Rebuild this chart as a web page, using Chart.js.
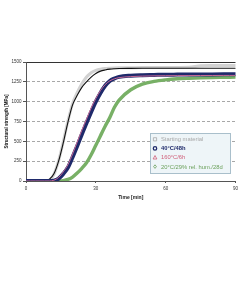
<!DOCTYPE html>
<html lang="en">
<head>
<meta charset="UTF-8">
<title>Structural strength</title>
<script src="https://cdn.jsdelivr.net/npm/chart.js"></script>
<style>
  body { margin: 0; background: #fff; }
  #wrap { position: relative; width: 241px; height: 283px; }
</style>
</head>
<body>
<div id="wrap"><canvas id="chart" width="241" height="283"></canvas></div>
<script>
// time axis (min)
const time = [0, 2, 4, 6, 8, 10, 12, 14, 16, 18, 20, 22, 24, 26, 28, 30, 32, 34, 36, 38, 40, 45, 50, 55, 60, 65, 70, 75, 80, 85, 90];

// structural strength (MPa)
const startingMaterial = [0, 0, 0, 0, 0, 12, 85, 255, 495, 755, 975, 1115, 1225, 1310, 1365, 1395, 1410, 1418, 1422, 1425, 1427, 1428, 1430, 1430, 1431, 1432, 1433, 1452, 1455, 1456, 1457];
const startingFit = [0, 0, 0, 0, 2, 20, 90, 250, 480, 740, 960, 1080, 1180, 1250, 1310, 1355, 1385, 1400, 1410, 1415, 1418, 1420, 1421, 1421, 1422, 1422, 1422, 1422, 1422, 1422, 1422];
const aged40C = [0, 0, 0, 0, 0, 0, 5, 30, 90, 170, 300, 440, 590, 730, 870, 1000, 1110, 1200, 1260, 1292, 1312, 1328, 1334, 1337, 1340, 1341, 1342, 1343, 1344, 1345, 1346];
const aged160C = [0, 0, 0, 0, 0, 0, 10, 45, 115, 205, 340, 490, 640, 780, 920, 1040, 1140, 1215, 1262, 1288, 1303, 1316, 1322, 1325, 1327, 1328, 1329, 1330, 1330, 1331, 1331];
const aged20C = [0, 0, 0, 0, 0, 0, 0, 0, 5, 20, 50, 100, 160, 230, 330, 450, 570, 690, 800, 930, 1020, 1150, 1220, 1255, 1275, 1288, 1295, 1300, 1304, 1307, 1310];

const yTicks = [0, 250, 500, 750, 1000, 1250, 1500];
const xTicks = [0, 30, 60, 90];

const legendItems = [
    { label: "Starting material", color: "#a8a8a8", marker: "square", bold: false },
    { label: "40°C/48h", color: "#1f2a6b", marker: "circle", bold: true },
    { label: "160°C/6h", color: "#d0607a", marker: "triangle", bold: false },
    { label: "20°C/29% rel. hum./28d", color: "#6aa05a", marker: "diamond", bold: false },
];

const pts = arr => time.map((t, i) => ({ x: t, y: arr[i] }));

const FONT = "'Liberation Sans', Arial, sans-serif";

// legend box drawn inside the plot
const boxLegend = {
    id: "boxLegend",
    afterDraw(chart) {
        const ctx = chart.ctx;
        const x = 150.5, y = 133.5, w = 80, h = 40;
        ctx.save();
        ctx.fillStyle = "#eef5f8";
        ctx.strokeStyle = "#a9bfcb";
        ctx.lineWidth = 1;
        ctx.fillRect(x, y, w, h);
        ctx.strokeRect(x, y, w, h);
        const rows = [139.3, 148.4, 157.5, 166.6];
        legendItems.forEach((it, i) => {
            const cy = rows[i], mx = 155;
            ctx.strokeStyle = it.color;
            ctx.lineWidth = it.bold ? 1.3 : 0.8;
            ctx.beginPath();
            if (it.marker === "square") ctx.rect(mx - 1.6, cy - 1.6, 3.2, 3.2);
            if (it.marker === "circle") ctx.arc(mx, cy, 1.7, 0, Math.PI * 2);
            if (it.marker === "triangle") { ctx.moveTo(mx, cy - 2); ctx.lineTo(mx + 1.9, cy + 1.5); ctx.lineTo(mx - 1.9, cy + 1.5); ctx.closePath(); }
            if (it.marker === "diamond") { ctx.moveTo(mx, cy - 1.8); ctx.lineTo(mx + 1.4, cy); ctx.lineTo(mx, cy + 1.8); ctx.lineTo(mx - 1.4, cy); ctx.closePath(); }
            ctx.stroke();
            ctx.fillStyle = it.color;
            ctx.font = (it.bold ? "bold " : "") + "5.8px " + FONT;
            ctx.textBaseline = "middle";
            ctx.textAlign = "left";
            ctx.fillText(it.label, 161, cy + 0.3);
        });
        ctx.restore();
    }
};

const ctx = document.getElementById("chart").getContext("2d");
// Chart.js paints dataset 0 last, so the top-most curve comes first here
new Chart(ctx, {
    type: "line",
    data: {
        datasets: [
            { label: "160°C/6h", data: pts(aged160C), borderColor: "#c86a96", borderWidth: 1 },
            { label: "40°C/48h", data: pts(aged40C), borderColor: "#1f2a6b", borderWidth: 4 },
            { label: "20°C/29% rel. hum./28d", data: pts(aged20C), borderColor: "#78b066", borderWidth: 3.4 },
            { label: "Starting material fit", data: pts(startingFit), borderColor: "#111111", borderWidth: 1.1 },
            { label: "Starting material", data: pts(startingMaterial), borderColor: "#d2d2d2", borderWidth: 3 },
        ]
    },
    options: {
        responsive: false,
        animation: false,
        parsing: false,
        layout: { padding: { top: 62, right: 4, left: 0, bottom: 82 } },
        elements: {
            point: { radius: 0 },
            line: { cubicInterpolationMode: "monotone", fill: false, borderCapStyle: "round" }
        },
        plugins: { legend: { display: false }, tooltip: { enabled: false } },
        scales: {
            x: {
                type: "linear",
                min: 0,
                max: 90,
                afterBuildTicks: s => { s.ticks = xTicks.map(v => ({ value: v })); },
                afterFit: s => { s.height = 20; },
                grid: { drawOnChartArea: false, drawTicks: true, tickLength: 2, color: "#555" },
                border: { color: "#555", width: 1 },
                ticks: { color: "#333", padding: 3, maxRotation: 0, font: { size: 4.5, family: FONT } },
                title: { display: true, text: "Time [min]", color: "#222", padding: { top: 1, bottom: 0 }, font: { size: 5, weight: "bold", family: FONT } }
            },
            y: {
                min: 0,
                max: 1500,
                afterBuildTicks: s => { s.ticks = yTicks.map(v => ({ value: v })); },
                afterFit: s => { s.width = 26; },
                grid: {
                    drawTicks: true,
                    tickLength: 3,
                    tickColor: "#555",
                    color: c => c.tick && c.tick.value === 1500 ? "#333" : (c.tick && c.tick.value === 0 ? "rgba(0,0,0,0)" : "#a8a8a8")
                },
                border: {
                    color: "#555",
                    width: 1,
                    dash: c => c.tick && c.tick.value === 1500 ? [] : [3, 2]
                },
                ticks: { color: "#333", padding: 1.5, font: { size: 4.5, family: FONT }, callback: v => String(v) },
                title: { display: true, text: "Structural strength [MPa]", color: "#222", padding: { top: 4.5, bottom: 0 }, font: { size: 4.5, weight: "bold", family: FONT } }
            }
        }
    },
    plugins: [boxLegend]
});
</script>
</body>
</html>
